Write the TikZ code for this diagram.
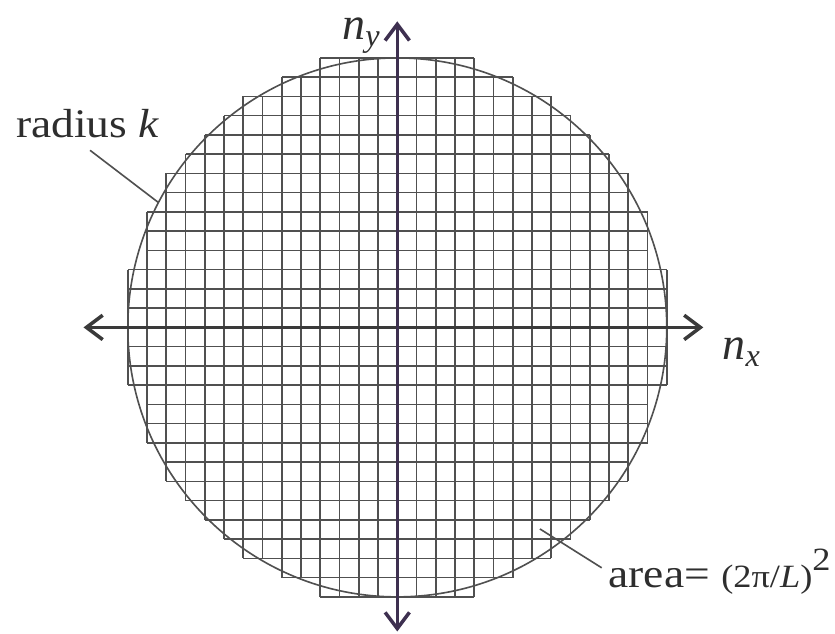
\documentclass[tikz,border=0pt]{standalone}
\usepackage{fontspec}
\setmainfont{Liberation Serif}
\usetikzlibrary{arrows.meta}

\definecolor{gridgray}{HTML}{505050}
\definecolor{axisgray}{HTML}{3A3A3A}
\definecolor{axispurple}{HTML}{3E3050}
\definecolor{inkgray}{HTML}{2E2E2E}

\begin{document}
\begin{tikzpicture}[x=0.25cm, y=0.25cm, line join=round,
    gridline/.style={gridgray, line width=0.6pt},
    circleline/.style={gridgray, line width=0.6pt},
    axisline/.style={line width=1.3pt, >={Straight Barb[length=6pt, width=9pt]}, <->},
    leader/.style={gridgray, line width=0.6pt},
    labeltext/.style={inkgray, inner sep=0pt, font=\fontsize{15}{18}\selectfont, xscale=1.12, transform shape},
    axislabel/.style={inkgray, inner sep=0pt, font=\fontsize{17}{20}\selectfont}]
    \useasboundingbox (-20.64,-15.92) rectangle (22.74,17.01);

    \coordinate (O) at (0,0);
    \coordinate (xl) at (-16.3,0);
    \coordinate (xr) at (15.9,0);
    \coordinate (yb) at (0,-15.8);
    \coordinate (yt) at (0,15.9);

    % cells, row by row from the axis outwards
    \foreach \k/\n in {1/14,2/14,3/14,4/13,5/13,6/13,7/12,8/12,9/11,10/10,11/9,12/8,13/6,14/4} {
        \draw[gridline] (-\n,\k-1) -- (\n,\k-1) (-\n,\k) -- (\n,\k);
        \draw[gridline] (-\n,1-\k) -- (\n,1-\k) (-\n,-\k) -- (\n,-\k);
        \foreach \i in {-\n,...,\n}
            \draw[gridline] (\i,\k-1) -- (\i,\k) (\i,1-\k) -- (\i,-\k);
    }
    \draw[circleline] (O) circle (14);

    \draw[axisline, axisgray] (xl) -- (xr);
    \draw[axisline, axispurple] (yb) -- (yt);

    \node[axislabel] (ny) at (-1.85,15.15) {$\mathit{n}_{\mathit{y}}$};
    \node[axislabel] (nx) at (17.9,-1.27) {$\mathit{n}_{\mathit{x}}$};

    \node[labeltext] (radius) at (-16.08,10.57) {radius \textit{k}};
    \coordinate (radfoot) at (-15.96,9.20);
    \coordinate (radtip) at (152.4:14);
    \draw[leader] (radfoot) -- (radtip);

    \node[labeltext, anchor=base west] (area) at (10.95,-13.53)
        {area= {\fontsize{12}{14}\selectfont(2π/\textit{L})}\raisebox{0.42em}{\fontsize{12}{14}\selectfont 2}};
    \coordinate (areafoot) at (10.62,-12.49);
    \coordinate (areatip) at (7.41,-10.47);
    \draw[leader] (areafoot) -- (areatip);
\end{tikzpicture}
\end{document}
